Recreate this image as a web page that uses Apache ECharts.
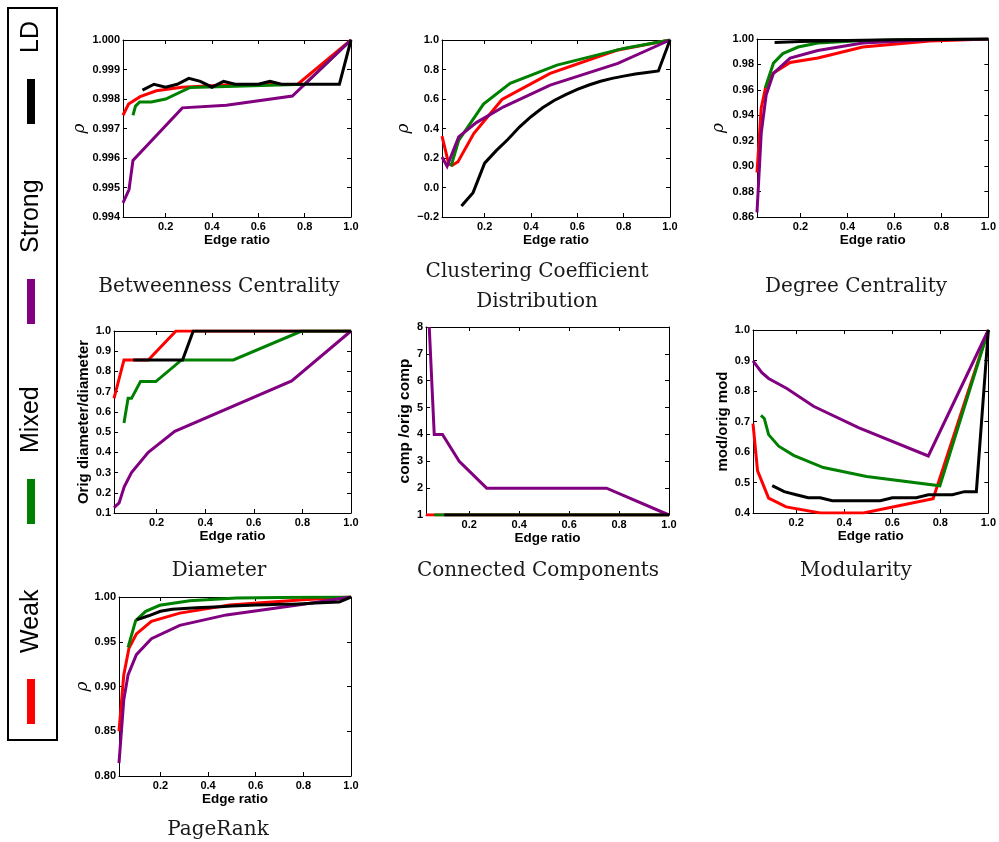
<!DOCTYPE html>
<html>
<head>
<meta charset="utf-8">
<script src="https://cdn.jsdelivr.net/npm/echarts@6/dist/echarts.min.js"></script>
<style>html,body{margin:0;padding:0;background:#fff}#c{width:999px;height:842px}</style>
</head>
<body>
<div id="c"></div>
<script>
// ---------- DATA ----------
const xTicks = [0.2, 0.4, 0.6, 0.8, 1.0];
const seriesNames = ['Weak', 'Mixed', 'Strong', 'LD'];
const ldX = [0.1,0.15,0.2,0.25,0.3,0.35,0.4,0.45,0.5,0.55,0.6,0.65,0.7,0.75,0.8,0.85,0.9,0.95,1.0];

// Betweenness Centrality
const bcTicks = [0.994,0.995,0.996,0.997,0.998,0.999,1.000];
const bcWeak = [[0.016,0.99745],[0.04,0.99783],[0.09,0.99808],[0.16,0.99828],[0.27,0.9984],[0.48,0.99848],[0.77,0.9985],[1.0,1.0]];
const bcMixed = [[0.059,0.99745],[0.07,0.99776],[0.088,0.9979],[0.138,0.9979],[0.2,0.998],[0.306,0.99839],[0.5,0.99843],[0.8,0.9985],[1.0,1.0]];
const bcStrong = [[0.016,0.99448],[0.042,0.99493],[0.059,0.99592],[0.272,0.9977],[0.462,0.99779],[0.747,0.9981],[1.0,1.0]];
const bcLD = [0.9983,0.9985,0.9984,0.9985,0.9987,0.9986,0.9984,0.9986,0.9985,0.9985,0.9985,0.9986,0.9985,0.9985,0.9985,0.9985,0.9985,0.9985,1.0];

// Clustering Coefficient Distribution
const ccTicks = [-0.2,0.0,0.2,0.4,0.6,0.8,1.0];
const ccWeak = [[0.016,0.348],[0.045,0.16],[0.06,0.15],[0.085,0.175],[0.153,0.366],[0.275,0.597],[0.483,0.774],[0.77,0.93],[1.0,1.0]];
const ccMixed = [[0.055,0.144],[0.088,0.32],[0.195,0.565],[0.31,0.706],[0.512,0.83],[0.8,0.943],[1.0,1.0]];
const ccStrong = [[0.016,0.207],[0.038,0.144],[0.088,0.343],[0.164,0.44],[0.282,0.547],[0.483,0.694],[0.775,0.842],[1.0,1.0]];
const ccLD = [-0.125,-0.035,0.165,0.25,0.325,0.41,0.48,0.54,0.59,0.63,0.665,0.695,0.72,0.74,0.755,0.77,0.78,0.79,1.0];

// Degree Centrality
const dcTicks = [0.86,0.88,0.90,0.92,0.94,0.96,0.98,1.00];
const dcWeak = [[0.015,0.895],[0.033,0.9457],[0.051,0.9615],[0.085,0.9733],[0.156,0.9816],[0.274,0.985],[0.465,0.9937],[0.75,0.9985],[1.0,1.0]];
const dcMixed = [[0.05,0.9615],[0.085,0.981],[0.125,0.9885],[0.19,0.9937],[0.274,0.9969],[0.45,0.9987],[0.77,0.9998],[1.0,1.0]];
const dcStrong = [[0.015,0.8636],[0.033,0.926],[0.054,0.956],[0.085,0.973],[0.156,0.985],[0.274,0.991],[0.465,0.9969],[0.75,0.9995],[1.0,1.0]];
const dcLDpts = [[0.09,0.9973],[0.2,0.998],[0.4,0.9988],[0.6,0.9994],[0.8,0.9997],[1.0,1.0]];

// Diameter
const diTicks = [0.1,0.2,0.3,0.4,0.5,0.6,0.7,0.8,0.9,1.0];
const diWeak = [[0.025,0.667],[0.066,0.857],[0.166,0.857],[0.28,1.0],[1.0,1.0]];
const diMixed = [[0.066,0.545],[0.083,0.667],[0.097,0.667],[0.134,0.75],[0.197,0.75],[0.303,0.857],[0.516,0.857],[0.797,1.0],[1.0,1.0]];
const diStrong = [[0.025,0.127],[0.046,0.15],[0.067,0.23],[0.097,0.3],[0.166,0.4],[0.275,0.504],[0.756,0.753],[1.0,1.0]];
const diLDpts = [[0.104,0.857],[0.307,0.857],[0.351,1.0],[1.0,1.0]];

// Connected Components
const coTicks = [1,2,3,4,5,6,7,8];
const coWeak = [[0.027,1],[1.0,1]];
const coMixed = [[0.06,1],[1.0,1]];
const coStrong = [[0.04,8],[0.06,4],[0.093,4],[0.16,3],[0.27,2],[0.75,2],[1.0,1]];
const coLDpts = [[0.1,1],[1.0,1]];

// Modularity
const moTicks = [0.4,0.5,0.6,0.7,0.8,0.9,1.0];
const moWeak = [[0.02,0.693],[0.039,0.538],[0.085,0.449],[0.158,0.42],[0.3,0.4],[0.48,0.4],[0.77,0.447],[1.0,1.0]];
const moMixed = [[0.053,0.72],[0.067,0.71],[0.085,0.657],[0.127,0.619],[0.189,0.589],[0.313,0.549],[0.493,0.52],[0.798,0.489],[1.0,1.0]];
const moStrong = [[0.02,0.899],[0.057,0.86],[0.085,0.841],[0.161,0.808],[0.272,0.75],[0.459,0.68],[0.75,0.587],[1.0,1.0]];
const moLD = [0.49,0.47,0.46,0.45,0.45,0.44,0.44,0.44,0.44,0.44,0.45,0.45,0.45,0.46,0.46,0.46,0.47,0.47,1.0];

// PageRank
const prTicks = [0.80,0.85,0.90,0.95,1.00];
const prWeak = [[0.026,0.85],[0.046,0.913],[0.068,0.943],[0.099,0.9587],[0.162,0.9728],[0.281,0.982],[0.49,0.991],[0.8,0.997],[1.0,1.0]];
const prMixed = [[0.064,0.9438],[0.096,0.9736],[0.138,0.984],[0.197,0.9907],[0.323,0.9959],[0.519,0.9989],[0.8,0.9998],[1.0,1.0]];
const prStrong = [[0.026,0.8145],[0.046,0.885],[0.064,0.913],[0.099,0.9356],[0.162,0.9534],[0.281,0.9683],[0.477,0.98],[0.8,0.992],[1.0,1.0]];
const prLD = [0.9745,0.979,0.984,0.9862,0.9872,0.988,0.9885,0.9892,0.99,0.9905,0.991,0.9913,0.9918,0.992,0.9925,0.9932,0.9938,0.9944,1.0];

// ---------- LAYOUT / STYLE ----------
const colors = ['#ff0000', '#008000', '#800080', '#000000'];
const zip = (xs, ys) => ys.map((y, i) => [xs[i], y]);
const panels = [
  {title:['Betweenness Centrality'], tx:219, ty:287, box:[123,40,351,217], xMin:0.016, yTicks:bcTicks, dec:3, yName:'ρ', yGap:31, yFont:17, italic:true,
   data:[bcWeak, bcMixed, bcStrong, zip(ldX, bcLD)]},
  {title:['Clustering Coefficient','Distribution'], tx:537, ty:287, box:[442,40,670,217], xMin:0.016, yTicks:ccTicks, dec:1, yName:'ρ', yGap:30, yFont:17, italic:true,
   data:[ccWeak, ccMixed, ccStrong, zip(ldX, ccLD)]},
  {title:['Degree Centrality'], tx:856, ty:287, box:[757,39,989,217], xMin:0.015, yTicks:dcTicks, dec:2, yName:'ρ', yGap:30, yFont:17, italic:true,
   data:[dcWeak, dcMixed, dcStrong, dcLDpts]},
  {title:['Diameter'], tx:219, ty:571, box:[114,331,351,513], xMin:0.025, yTicks:diTicks, dec:1, yName:'Orig diameter/diameter', yGap:18, yFont:15, italic:false,
   data:[diWeak, diMixed, diStrong, diLDpts]},
  {title:['Connected Components'], tx:538, ty:571, box:[426,327,669,515], xMin:0.027, yTicks:coTicks, dec:0, yName:'comp /orig comp', yGap:11, yFont:15.5, italic:false,
   data:[coWeak, coMixed, coStrong, coLDpts]},
  {title:['Modularity'], tx:856, ty:571, box:[753,330,989,513], xMin:0.02, yTicks:moTicks, dec:1, yName:'mod/orig mod', yGap:17, yFont:15, italic:false,
   data:[moWeak, moMixed, moStrong, zip(ldX, moLD)]},
  {title:['PageRank'], tx:218, ty:830, box:[119,597,351,776], xMin:0.026, yTicks:prTicks, dec:2, yName:'ρ', yGap:27, yFont:17, italic:true,
   data:[prWeak, prMixed, prStrong, zip(ldX, prLD)]}
];

const SANS = '"Liberation Sans", Arial, sans-serif';
const axisLine = {show:true, onZero:false, lineStyle:{color:'#000', width:1}};
const grids = [], xAxes = [], yAxes = [], series = [], graphics = [];

panels.forEach((p, k) => {
  const [l, t, r, b] = p.box;
  grids.push({left:l, top:t, width:r - l, height:b - t, containLabel:false});
  const yMin = p.yTicks[0], yMax = p.yTicks[p.yTicks.length - 1];
  const fmtY = v => (v < 0 ? '\u2212' : '') + Math.abs(v).toFixed(p.dec);
  xAxes.push({type:'value', gridIndex:k, position:'bottom', min:p.xMin, max:1.0,
    axisLine, splitLine:{show:false},
    axisTick:{show:true, inside:true, length:4, customValues:xTicks, lineStyle:{color:'#000'}},
    axisLabel:{customValues:xTicks, formatter:v => v.toFixed(1), fontFamily:SANS, fontWeight:'bold', fontSize:11, color:'#000', margin:4},
    name:'Edge ratio', nameLocation:'middle', nameGap:13,
    nameTextStyle:{fontFamily:SANS, fontWeight:'bold', fontSize:13.5, color:'#000'}});
  xAxes.push({type:'value', gridIndex:k, position:'top', min:p.xMin, max:1.0,
    axisLine, splitLine:{show:false},
    axisTick:{show:true, inside:true, length:4, customValues:xTicks, lineStyle:{color:'#000'}},
    axisLabel:{show:false}});
  yAxes.push({type:'value', gridIndex:k, position:'left', min:yMin, max:yMax,
    axisLine, splitLine:{show:false},
    axisTick:{show:true, inside:true, length:4, customValues:p.yTicks, lineStyle:{color:'#000'}},
    axisLabel:{customValues:p.yTicks, formatter:fmtY, fontFamily:SANS, fontWeight:'bold', fontSize:11, color:'#000', margin:3},
    name:p.yName, nameLocation:'middle', nameGap:p.yGap,
    nameTextStyle:{fontFamily:p.italic ? '"DejaVu Serif", serif' : SANS, fontStyle:p.italic ? 'italic' : 'normal',
      fontWeight:p.italic ? 'normal' : 'bold', fontSize:p.yFont, color:'#000'}});
  yAxes.push({type:'value', gridIndex:k, position:'right', min:yMin, max:yMax,
    axisLine, splitLine:{show:false},
    axisTick:{show:true, inside:true, length:4, customValues:p.yTicks, lineStyle:{color:'#000'}},
    axisLabel:{show:false}});
  p.data.forEach((d, s) => {
    series.push({type:'line', name:seriesNames[s], xAxisIndex:2 * k, yAxisIndex:2 * k, data:d,
      symbol:'none', showSymbol:false, clip:true, z:2 + s,
      lineStyle:{color:colors[s], width:3, join:'miter'}, itemStyle:{color:colors[s]}});
  });
  const n = p.title.length;
  p.title.forEach((line, i) => {
    graphics.push({type:'text', x:p.tx, y:p.ty + (i - (n - 1) / 2) * 30,
      style:{text:line, font:'20px "DejaVu Serif", serif', fill:'#1a1a1a', textAlign:'center', textVerticalAlign:'middle'}});
  });
});

// Legend (vertical, rotated text)
graphics.push({type:'rect', shape:{x:8, y:8, width:49, height:732}, style:{fill:'none', stroke:'#000', lineWidth:2}});
seriesNames.forEach((name, s) => {
  const barTop = 679 - s * 200;
  graphics.push({type:'rect', shape:{x:27, y:barTop, width:8, height:45}, style:{fill:colors[s]}});
  graphics.push({type:'text', x:31, y:barTop - 26, rotation:Math.PI / 2,
    style:{text:name, font:'25px "Liberation Sans", Arial, sans-serif', fill:'#000', textAlign:'left', textVerticalAlign:'middle'}});
});

const chart = echarts.init(document.getElementById('c'), null, {renderer:'canvas'});
chart.setOption({
  animation:false,
  backgroundColor:'#fff',
  grid:grids, xAxis:xAxes, yAxis:yAxes, series,
  graphic:{elements:graphics}
});
</script>
</body>
</html>
